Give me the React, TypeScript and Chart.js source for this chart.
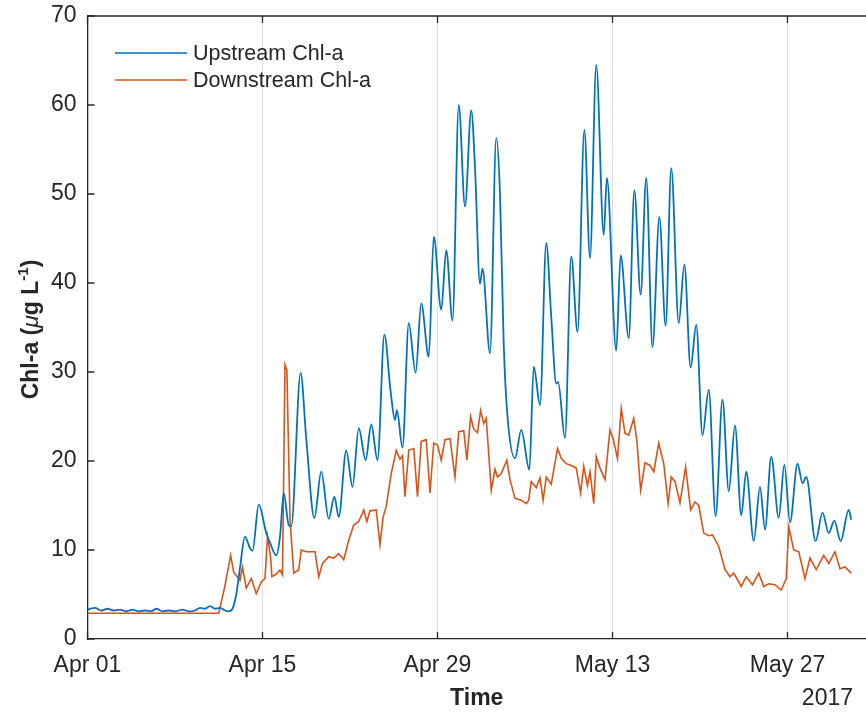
import React, { useEffect, useRef } from 'react';
import { Chart, registerables } from 'chart.js';

Chart.register(...registerables);

// ---- data (day offset from Apr 01 2017, Chl-a in µg/L) ----
const UP_DAYS = [
  0.0, 0.6, 1.1, 1.6, 2.1, 2.6, 3.1, 3.6, 4.1, 4.6, 5.1, 5.5, 6.0, 6.5, 7.0, 7.6, 8.1, 8.6, 9.0, 9.4,
  9.8, 10.2, 10.6, 11.0, 11.3, 11.6, 11.9, 12.2, 12.6, 13.0, 13.2, 13.7, 14.3, 14.6, 15.1, 15.4, 15.7, 16.1, 16.3, 17.05,
  17.5, 18.15, 18.7, 19.3, 19.75, 20.1, 20.7, 21.2, 21.7, 22.25, 22.7, 23.2, 23.75, 24.25, 24.6, 24.75, 25.2, 25.7, 26.25, 26.7,
  27.3, 27.7, 28.3, 28.7, 29.2, 29.7, 30.2, 30.7, 31.0, 31.4, 31.6, 32.2, 32.7, 33.0, 33.3, 33.6, 34.2, 34.7, 35.35, 35.7,
  36.2, 36.7, 37.1, 37.5, 37.65, 38.2, 38.7, 39.2, 39.75, 40.2, 40.7, 41.3, 41.55, 42.3, 42.65, 43.3, 43.75, 44.25, 44.7, 45.2,
  45.75, 46.25, 46.7, 47.3, 47.75, 48.25, 48.7, 49.2, 49.7, 50.25, 50.8, 51.3, 51.8, 52.3, 52.7, 53.3, 53.8, 54.2, 54.7, 55.3,
  55.75, 56.2, 56.8, 57.2, 57.5, 58.25, 58.8, 59.3, 59.75, 60.25, 60.9, 61.1,
];
const UP_VALUES = [
  3.3, 3.5, 3.2, 3.4, 3.2, 3.3, 3.1, 3.3, 3.1, 3.2, 3.1, 3.4, 3.1, 3.2, 3.1, 3.3, 3.1, 3.2, 3.5, 3.4,
  3.7, 3.4, 3.5, 3.2, 3.1, 3.4, 5.0, 8.0, 11.5, 10.2, 9.9, 15.1, 11.9, 10.8, 9.4, 11.5, 16.4, 12.8, 12.7, 29.9,
  22.5, 13.6, 18.8, 13.5, 16.0, 13.7, 21.2, 17.1, 23.7, 20.1, 24.1, 20.1, 34.2, 27.8, 24.6, 25.7, 21.5, 35.5, 29.9, 37.7,
  31.7, 45.2, 37.0, 43.7, 35.8, 60.0, 48.6, 59.4, 53.0, 39.9, 41.6, 32.1, 56.3, 50.0, 33.0, 25.0, 20.3, 23.5, 19.0, 30.6,
  26.3, 44.5, 36.2, 28.7, 28.9, 22.6, 43.0, 34.5, 57.2, 42.8, 64.5, 45.4, 51.8, 32.4, 43.1, 33.8, 50.4, 38.7, 51.8, 32.8,
  47.4, 35.2, 52.9, 35.5, 42.1, 30.5, 35.3, 22.9, 28.0, 13.8, 26.9, 16.6, 24.0, 13.9, 18.8, 11.0, 17.1, 12.3, 20.5, 13.6,
  19.6, 13.1, 19.7, 17.5, 18.2, 11.0, 14.2, 11.9, 13.3, 11.0, 14.5, 13.4,
];

const DOWN_DAYS = [
  0.0, 10.5, 11.0, 11.45, 11.7, 12.2, 12.4, 12.7, 13.1, 13.5, 13.9, 14.2, 14.4, 14.65, 14.75, 15.1, 15.4, 15.6, 15.8, 15.95,
  16.2, 16.5, 16.9, 17.1, 17.5, 17.9, 18.2, 18.5, 18.8, 19.3, 19.7, 20.1, 20.5, 20.9, 21.3, 21.7, 22.1, 22.35, 22.6, 23.1,
  23.4, 23.65, 23.9, 24.3, 24.7, 25.0, 25.2, 25.4, 25.7, 26.1, 26.4, 26.7, 27.1, 27.4, 27.7, 28.0, 28.3, 28.6, 29.0, 29.4,
  29.7, 30.1, 30.35, 30.65, 30.9, 31.2, 31.45, 31.7, 31.9, 32.3, 32.6, 32.8, 33.1, 33.55, 33.8, 34.2, 34.7, 35.1, 35.3, 35.5,
  35.9, 36.2, 36.45, 36.7, 37.1, 37.6, 37.9, 38.3, 38.7, 39.1, 39.45, 39.7, 40.0, 40.2, 40.5, 40.7, 41.0, 41.4, 41.8, 42.05,
  42.4, 42.7, 43.0, 43.3, 43.7, 43.95, 44.25, 44.6, 45.0, 45.3, 45.7, 46.1, 46.45, 46.7, 47.0, 47.4, 47.85, 48.25, 48.6, 48.9,
  49.3, 49.7, 50.0, 50.5, 51.0, 51.4, 51.7, 52.3, 52.7, 53.2, 53.7, 54.1, 54.5, 55.0, 55.5, 55.9, 56.1, 56.5, 56.9, 57.4,
  57.8, 58.3, 58.9, 59.3, 59.8, 60.2, 60.6, 61.1,
];
const DOWN_VALUES = [
  2.9, 2.9, 6.0, 9.4, 7.5, 6.6, 8.1, 5.7, 6.8, 5.1, 6.4, 6.8, 11.5, 9.2, 7.0, 7.3, 7.75, 7.2, 30.8, 30.2,
  13.4, 7.4, 7.75, 10.0, 9.8, 9.8, 9.8, 7.0, 8.5, 9.25, 9.1, 9.6, 8.9, 11.1, 12.8, 13.2, 14.5, 13.2, 14.4, 14.5,
  10.6, 13.7, 14.9, 18.6, 21.2, 20.2, 20.6, 16.0, 21.2, 21.4, 16.0, 22.2, 22.4, 16.4, 22.0, 21.8, 20.1, 22.4, 22.5, 18.2,
  23.3, 23.4, 20.1, 25.0, 23.6, 23.2, 25.7, 24.2, 24.8, 16.7, 19.1, 18.2, 18.6, 20.1, 17.9, 15.8, 15.6, 15.2, 15.6, 17.7,
  17.0, 18.1, 15.6, 18.2, 17.4, 21.4, 20.3, 19.7, 19.5, 19.2, 16.4, 19.4, 17.2, 18.8, 15.2, 20.5, 19.2, 17.9, 23.5, 22.5,
  20.3, 25.9, 23.1, 22.9, 24.8, 22.3, 16.7, 19.8, 19.5, 18.8, 22.0, 19.7, 15.2, 18.2, 17.7, 15.3, 19.3, 14.5, 15.4, 15.0,
  11.9, 11.6, 11.7, 10.4, 7.8, 7.0, 7.4, 5.9, 7.0, 6.1, 7.4, 5.9, 6.2, 6.1, 5.5, 6.8, 12.6, 10.0, 9.8, 6.8,
  9.1, 7.8, 9.4, 8.5, 9.8, 7.9, 8.1, 7.4,
];

const SERIES_NAMES = ['Upstream Chl-a', 'Downstream Chl-a'];
const X_TICK_DAYS = [0, 14, 28, 42, 56];
const X_TICK_LABELS = ['Apr 01', 'Apr 15', 'Apr 29', 'May 13', 'May 27'];
const Y_TICKS = [0, 10, 20, 30, 40, 50, 60, 70];
const X_TITLE = 'Time';
const YEAR_LABEL = '2017';
const X_MAX_DAY = 62.28;

// ---- styles ----
const W = 866;
const H = 713;
const AXIS_COLOR = '#262626';
const GRID_COLOR = '#dedede';
const BLUE = '#0072BD';
const ORANGE = '#D95319';
const FONT = '"Liberation Sans", Arial, Helvetica, sans-serif';
const FONT_SIZE = 23;
const LEGEND_FONT_SIZE = 21.5;

const framePlugin = {
  id: 'matlabFrame',
  afterDraw(chart: any) {
    const { ctx, chartArea, scales } = chart;
    const { left, right, top, bottom } = chartArea;
    const xs = scales.x;
    const ys = scales.y;
    ctx.save();
    ctx.strokeStyle = AXIS_COLOR;
    ctx.lineWidth = 1.3;
    ctx.beginPath();
    ctx.moveTo(left, top);
    ctx.lineTo(right, top);
    ctx.stroke();
    const TL = 7;
    ctx.beginPath();
    X_TICK_DAYS.forEach((d) => {
      const px = xs.getPixelForValue(d);
      ctx.moveTo(px, bottom);
      ctx.lineTo(px, bottom - TL);
      ctx.moveTo(px, top);
      ctx.lineTo(px, top + TL);
    });
    Y_TICKS.forEach((v) => {
      const py = ys.getPixelForValue(v);
      ctx.moveTo(left, py);
      ctx.lineTo(left + TL, py);
    });
    ctx.stroke();

    // legend (inside, top-left, no box)
    const colors = [BLUE, ORANGE];
    const legendY = [53, 80];
    SERIES_NAMES.forEach((name, i) => {
      ctx.strokeStyle = colors[i];
      ctx.lineWidth = 1.6;
      ctx.beginPath();
      ctx.moveTo(115, legendY[i]);
      ctx.lineTo(187, legendY[i]);
      ctx.stroke();
      ctx.fillStyle = AXIS_COLOR;
      ctx.font = `${LEGEND_FONT_SIZE}px ${FONT}`;
      ctx.textAlign = 'left';
      ctx.textBaseline = 'middle';
      ctx.fillText(name, 193, legendY[i] + 1);
    });

    // year label under the last tick
    ctx.fillStyle = AXIS_COLOR;
    ctx.font = `${FONT_SIZE}px ${FONT}`;
    ctx.textAlign = 'right';
    ctx.textBaseline = 'middle';
    ctx.fillText(YEAR_LABEL, 853, 699);

    // y-axis title with italic mu and superscript
    const bold = `bold ${FONT_SIZE}px ${FONT}`;
    const ital = `italic ${FONT_SIZE}px ${FONT}`;
    const sup = `bold ${Math.round(FONT_SIZE * 0.65)}px ${FONT}`;
    const parts = [
      { t: 'Chl-a (', f: bold, dy: 0 },
      { t: 'μ', f: ital, dy: 0 },
      { t: 'g L', f: bold, dy: 0 },
      { t: '-1', f: sup, dy: -10 },
      { t: ')', f: bold, dy: 0 },
    ];
    let total = 0;
    parts.forEach((p) => {
      ctx.font = p.f;
      total += ctx.measureText(p.t).width;
    });
    ctx.translate(38, (top + bottom) / 2 + 2);
    ctx.rotate(-Math.PI / 2);
    ctx.textAlign = 'left';
    ctx.textBaseline = 'alphabetic';
    let cx = -total / 2;
    parts.forEach((p) => {
      ctx.font = p.f;
      ctx.fillText(p.t, cx, p.dy);
      cx += ctx.measureText(p.t).width;
    });
    ctx.restore();
  },
};

export default function App() {
  const ref = useRef<HTMLCanvasElement | null>(null);

  useEffect(() => {
    if (!ref.current) return;
    const upData = UP_DAYS.map((d, i) => ({ x: d, y: UP_VALUES[i] }));
    const downData = DOWN_DAYS.map((d, i) => ({ x: d, y: DOWN_VALUES[i] }));
    const chart = new Chart(ref.current, {
      type: 'line',
      data: {
        datasets: [
          {
            label: SERIES_NAMES[0],
            data: upData,
            borderColor: BLUE,
            borderWidth: 1.8,
            pointRadius: 0,
            cubicInterpolationMode: 'monotone',
            fill: false,
          },
          {
            label: SERIES_NAMES[1],
            data: downData,
            borderColor: ORANGE,
            borderWidth: 1.6,
            pointRadius: 0,
            tension: 0,
            fill: false,
          },
        ],
      },
      options: {
        responsive: false,
        animation: false,
        layout: { padding: { top: 16, right: 0, bottom: 0, left: 0 } },
        plugins: {
          legend: { display: false },
          tooltip: { enabled: false },
        },
        scales: {
          x: {
            type: 'linear',
            min: 0,
            max: X_MAX_DAY,
            afterBuildTicks: (scale: any) => {
              scale.ticks = X_TICK_DAYS.map((v) => ({ value: v }));
            },
            afterFit: (scale: any) => {
              scale.height = H - 639;
              scale.paddingLeft = 0;
              scale.paddingRight = 0;
            },
            ticks: {
              autoSkip: false,
              maxRotation: 0,
              padding: 13,
              color: AXIS_COLOR,
              font: { family: FONT, size: FONT_SIZE },
              callback: (v: any) => {
                const idx = X_TICK_DAYS.indexOf(Number(v));
                return idx >= 0 ? X_TICK_LABELS[idx] : '';
              },
            },
            grid: { display: true, drawTicks: false, color: GRID_COLOR, lineWidth: 1 },
            border: { display: true, color: AXIS_COLOR, width: 1.3 },
            title: {
              display: true,
              text: X_TITLE,
              color: AXIS_COLOR,
              font: { family: FONT, size: FONT_SIZE, weight: 'bold' },
              padding: { top: 0, bottom: 1 },
            },
          },
          y: {
            type: 'linear',
            min: 0,
            max: 70,
            afterBuildTicks: (scale: any) => {
              scale.ticks = Y_TICKS.map((v) => ({ value: v }));
            },
            afterFit: (scale: any) => {
              scale.width = 87.5;
              scale.paddingTop = 0;
              scale.paddingBottom = 0;
            },
            ticks: {
              padding: 11,
              color: AXIS_COLOR,
              font: { family: FONT, size: FONT_SIZE },
            },
            grid: { display: false, drawTicks: false },
            border: { display: true, color: AXIS_COLOR, width: 1.3 },
          },
        },
      },
      plugins: [framePlugin],
    } as any);
    return () => chart.destroy();
  }, []);

  return (
    <canvas
      ref={ref}
      width={W}
      height={H}
      style={{ position: 'fixed', left: 0, top: 0, width: W, height: H, background: '#ffffff' }}
    />
  );
}
